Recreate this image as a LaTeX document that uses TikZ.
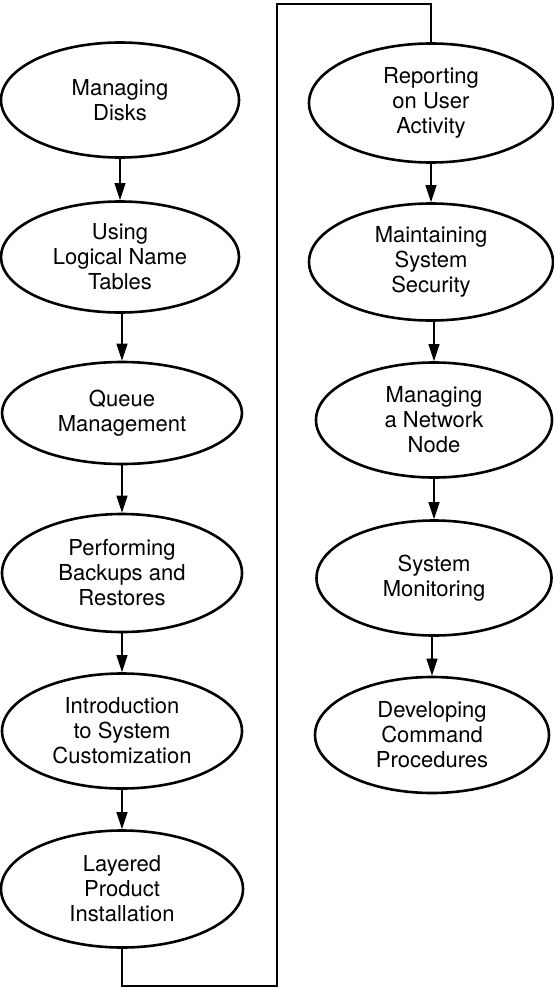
\documentclass[tikz,border=0pt]{standalone}
\usepackage{fontspec}
\setmainfont{TeX Gyre Heros}
\usetikzlibrary{shapes.geometric,arrows.meta}

\tikzset{
  topic/.style={ellipse, draw, line width=2.6pt, inner sep=0pt,
    minimum width=238pt, minimum height=115pt, align=center,
    font=\fontsize{22pt}{25pt}\selectfont},
  flow/.style={line width=1.1pt, -{Triangle[length=17pt,width=11pt]}},
  loopline/.style={line width=1.1pt}
}

\begin{document}
\begin{tikzpicture}[x=1pt,y=-1pt]
  \useasboundingbox (0,0) rectangle (554,988);

  % left column
  \node[topic] (disks)   at (120,100) {Managing\\Disks};
  \node[topic, minimum height=111pt] (names) at (120,257) {Using\\Logical Name\\Tables};
  \node[topic, minimum height=102pt, minimum width=240pt] (queue) at (122,413) {Queue\\Management};
  \node[topic, minimum height=118pt, minimum width=240pt] (backup) at (122,573) {Performing\\Backups and\\Restores};
  \node[topic, minimum width=240pt] (custom) at (122,731) {Introduction\\to System\\Customization};
  \node[topic, minimum height=117pt, minimum width=242pt] (layered) at (122,889) {Layered\\Product\\Installation};

  % right column
  \node[topic, minimum height=119pt, minimum width=244pt] (report) at (431,103) {Reporting\\on User\\Activity};
  \node[topic, minimum height=117pt, minimum width=244pt] (security) at (431,262) {Maintaining\\System\\Security};
  \node[topic, minimum width=236pt] (network) at (434,420) {Managing\\a Network\\Node};
  \node[topic, minimum width=235pt] (monitor) at (434,578) {System\\Monitoring};
  \node[topic, minimum height=116pt, minimum width=234pt] (procs) at (432,735) {Developing\\Command\\Procedures};

  % sequence arrows
  \draw[flow] (disks.south)  -- (names.north);
  \draw[flow] (names.south -| queue.north) -- (queue.north);
  \draw[flow] (queue.south)  -- (backup.north);
  \draw[flow] (backup.south) -- (custom.north);
  \draw[flow] (custom.south) -- (layered.north);

  \draw[flow] (report.south -| security.north) -- (security.north);
  \draw[flow] (security.south -| network.north) -- (network.north);
  \draw[flow] (network.south) -- (monitor.north);
  \draw[flow] (monitor.south -| procs.north) -- (procs.north);

  % link from the bottom of the left column to the top of the right one
  \coordinate (lowturn) at (277,986);
  \coordinate (highturn) at (277,4);
  \draw[loopline] (layered.south) |- (lowturn) -- (highturn) -| (report.north);
\end{tikzpicture}
\end{document}
